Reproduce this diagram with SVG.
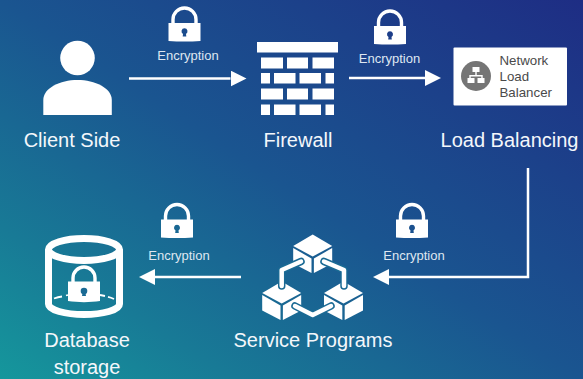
<svg xmlns="http://www.w3.org/2000/svg" width="583" height="379" viewBox="0 0 583 379">
<style>
.w{fill:#fff}
.lbl{font-family:"Liberation Sans",Arial,sans-serif;font-size:20px;fill:#f4f7fb;text-anchor:middle}
.enc{font-family:"Liberation Sans",Arial,sans-serif;font-size:13px;fill:#dfe7f1;text-anchor:middle}
.card{font-family:"Liberation Sans",Arial,sans-serif;font-size:13.300px;fill:#4a4a4a}
.line{fill:none;stroke:#fff;stroke-width:2.500}
.shackle{fill:none;stroke:#fff;stroke-width:3.400}
</style>
<defs>
<linearGradient id="bg" gradientUnits="userSpaceOnUse" x1="0" y1="379" x2="346" y2="-154">
<stop offset="0" stop-color="#15979c"/>
<stop offset="0.2" stop-color="#187a96"/>
<stop offset="0.5" stop-color="#1a5590"/>
<stop offset="1" stop-color="#1e2d84"/>
</linearGradient>
<marker id="arrow" markerUnits="userSpaceOnUse" markerWidth="16" markerHeight="16" refX="0" refY="8" orient="auto">
<path d="M0 0L16 8L0 16Z" fill="#fff"/>
</marker>
<g id="lock">
<path class="shackle" d="M4.500 17V13A11.500 11.500 0 0 1 27.500 13V17"/>
<path class="w" fill-rule="evenodd" d="M0 16.500H32V34.500Q16 35.500 0 34.500ZM16 21.800a3 3 0 0 0-1.500 5.600L14.200 30H17.800L17.500 27.400a3 3 0 0 0-1.500-5.600Z"/>
</g>
<g id="cube">
<path class="w" d="M0 -11.500L19.500 0L0 10.500L-19.500 0Z"/>
<path class="w" d="M-19.500 2L-1.200 12.500V27L-19.500 17.500Z"/>
<path class="w" d="M19.500 2L1.200 12.500V27L19.500 17.500Z"/>
</g>
</defs>
<rect width="583" height="379" fill="url(#bg)"/>
<g id="connectors">
<path class="line" d="M129 78.500H230.500" marker-end="url(#arrow)"/>
<path class="line" d="M349 78H425" marker-end="url(#arrow)"/>
<path class="line" d="M528 168V277H389" marker-end="url(#arrow)"/>
<path class="line" d="M241 277H155" marker-end="url(#arrow)"/>
</g>
<g id="client">
<circle class="w" cx="77.500" cy="58" r="17.300"/>
<path class="w" d="M43.300 115V100C43.300 88 60 80 77.500 80S111.800 88 111.800 100V115Z"/>
<text class="lbl" x="72" y="147">Client Side</text>
</g>
<g id="enc1"><use href="#lock" x="168.500" y="6.500"/><text class="enc" x="188" y="59.500">Encryption</text></g>
<g id="firewall">
<g class="w">
<rect x="257" y="42" width="81" height="10.500"/>
<rect x="261" y="57.500" width="22" height="11"/><rect x="287" y="57.500" width="21" height="11"/><rect x="312.500" y="57.500" width="21.500" height="11"/>
<rect x="261" y="73" width="9" height="10.500"/><rect x="274" y="73" width="21.500" height="10.500"/><rect x="299.500" y="73" width="21.500" height="10.500"/><rect x="325.500" y="73" width="8.500" height="10.500"/>
<rect x="261" y="88.500" width="22" height="11"/><rect x="287" y="88.500" width="21" height="11"/><rect x="312.500" y="88.500" width="21.500" height="11"/>
<rect x="261" y="104.500" width="9" height="10.500"/><rect x="274" y="104.500" width="21.500" height="10.500"/><rect x="299.500" y="104.500" width="21.500" height="10.500"/><rect x="325.500" y="104.500" width="8.500" height="10.500"/>
</g>
<text class="lbl" x="298" y="147">Firewall</text>
</g>
<g id="enc2"><use href="#lock" x="374" y="9.500"/><text class="enc" x="389.500" y="62.500">Encryption</text></g>
<g id="load-balancer">
<rect x="453.500" y="47.500" width="113.500" height="58" rx="1" class="w"/>
<circle cx="476" cy="76" r="15" fill="#757575"/>
<g class="w">
<rect x="472.500" y="67" width="7" height="5"/>
<path d="M475.300 72h1.400v3h6v3h-1.400v-1.600h-10.600V78h-1.400v-3h6Z"/>
<rect x="467.500" y="78" width="7" height="5"/>
<rect x="477.500" y="78" width="7" height="5"/>
</g>
<text class="card" x="499.500" y="65">Network</text>
<text class="card" x="499.500" y="81">Load</text>
<text class="card" x="499.500" y="96.700">Balancer</text>
<text class="lbl" x="509.500" y="147">Load Balancing</text>
</g>
<g id="enc3"><use href="#lock" x="396" y="203"/><text class="enc" x="414" y="260">Encryption</text></g>
<g id="services">
<use href="#cube" x="312.700" y="246"/>
<use href="#cube" x="281.700" y="293"/>
<use href="#cube" x="343.500" y="293"/>
<g fill="none" stroke-linecap="round" stroke-linejoin="round">
<g stroke="#1a6a94" stroke-width="7.500">
<path d="M301 261.500L281.700 270V286"/>
<path d="M324 261.500L344 270V286"/>
<path d="M295 306L312.700 315L331 306"/>
</g>
<g stroke="#fff" stroke-width="4.500">
<path d="M301 261.500L281.700 270V286"/>
<path d="M324 261.500L344 270V286"/>
<path d="M295 306L312.700 315L331 306"/>
</g>
</g>
<text class="lbl" x="313" y="347">Service Programs</text>
</g>
<g id="enc4"><use href="#lock" x="161" y="203"/><text class="enc" x="179" y="260">Encryption</text></g>
<g id="database">
<g fill="none" stroke="#fff" stroke-width="7">
<ellipse cx="84" cy="249.500" rx="35.500" ry="11"/>
<path d="M48.500 249.500V304C48.500 310 65 314.500 84 314.500S119.500 310 119.500 304V249.500"/>
</g>
<path class="shackle" d="M73 283V278A11 11 0 0 1 95 278V283"/>
<path class="w" d="M68 281.500H100V301C90 302.500 78 302.500 68 301Z"/>
<circle cx="84" cy="291" r="3.300" fill="#1a6a94"/>
<path d="M82.500 293h3l.5 3h-4Z" fill="#1a6a94"/>
<path d="M54 298.500Q58 297 62 296.500M66 295.500L68 295M100 295L105 296M108 296.800Q111 297.500 114 299" fill="none" stroke="#fff" stroke-width="1.800"/>
<text class="lbl" x="87" y="347">Database</text>
<text class="lbl" x="87" y="374">storage</text>
</g>
</svg>
